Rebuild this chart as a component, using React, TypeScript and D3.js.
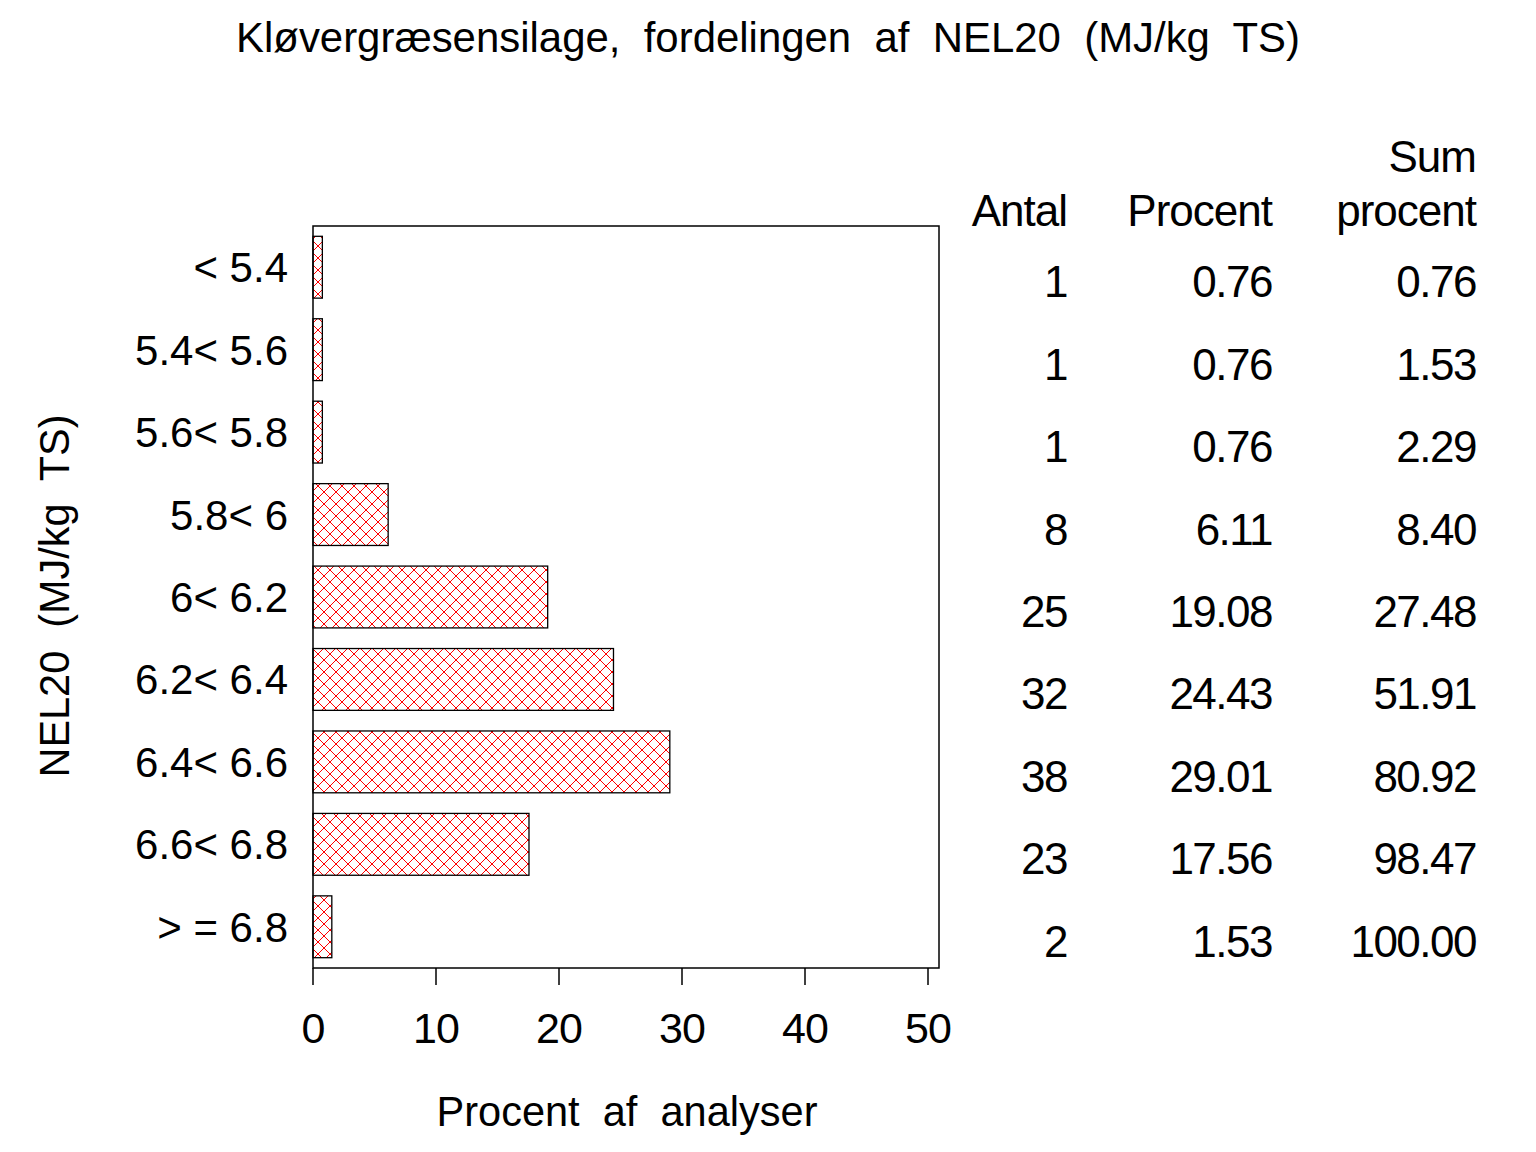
import React from 'react';
import * as d3 from 'd3';

// NEL20 classes, shown top to bottom
const categories = ['< 5.4', '5.4< 5.6', '5.6< 5.8', '5.8< 6', '6< 6.2', '6.2< 6.4', '6.4< 6.6', '6.6< 6.8', '> = 6.8'];
const antal = [1, 1, 1, 8, 25, 32, 38, 23, 2];
const procent = [0.76, 0.76, 0.76, 6.11, 19.08, 24.43, 29.01, 17.56, 1.53];
const sumProcent = [0.76, 1.53, 2.29, 8.4, 27.48, 51.91, 80.92, 98.47, 100.0];
const xTicks = [0, 10, 20, 30, 40, 50];

const font = '"Liberation Sans", Arial, Helvetica, sans-serif';
const pre: React.CSSProperties = { whiteSpace: 'pre' };

const App: React.FC = () => {
    const W = 1536;
    const H = 1152;

    // plot frame
    const left = 313;
    const top = 226;
    const bottom = 968;
    const frameRight = 939;

    const xScale = d3.scaleLinear().domain([0, 50]).range([left, 928]);
    const yScale = d3.scaleBand<string>()
        .domain(categories)
        .range([top, bottom])
        .paddingInner(0.25)
        .paddingOuter(0.125);

    const center = (c: string) => (yScale(c) as number) + yScale.bandwidth() / 2;

    // table columns (right edges)
    const colAntal = 1067;
    const colProcent = 1272;
    const colSum = 1476;

    return (
        <svg
            width={W}
            height={H}
            style={{ position: 'absolute', left: 0, top: 0, background: '#fff' }}
            fontFamily={font}
        >
            <defs>
                <pattern id="hatch" width={12} height={12} patternUnits="userSpaceOnUse">
                    <rect width={12} height={12} fill="#fff" />
                    <path d="M0,0L12,12M12,0L0,12" stroke="#ff0000" strokeWidth={1} shapeRendering="crispEdges" />
                </pattern>
            </defs>

            <rect x={0} y={0} width={W} height={H} fill="#fff" />

            {/* title */}
            <text x={768} y={52} fontSize={43} textAnchor="middle" textLength={1064} lengthAdjust="spacingAndGlyphs" style={pre}>
                {'Kløvergræsensilage,  fordelingen  af  NEL20  (MJ/kg  TS)'}
            </text>

            {/* bars */}
            {categories.map((c, i) => (
                <rect
                    key={c}
                    x={xScale(0)}
                    y={yScale(c)}
                    width={xScale(procent[i]) - xScale(0)}
                    height={yScale.bandwidth()}
                    fill="url(#hatch)"
                    stroke="#000"
                    strokeWidth={1.3}
                />
            ))}

            {/* frame */}
            <rect x={left} y={top} width={frameRight - left} height={bottom - top} fill="none" stroke="#000" strokeWidth={1.5} />

            {/* category labels */}
            {categories.map(c => (
                <text key={c} x={288} y={center(c) + 15} fontSize={42} textAnchor="end" style={pre}>
                    {c}
                </text>
            ))}

            {/* x axis ticks */}
            {xTicks.map(t => (
                <g key={t}>
                    <line x1={xScale(t)} x2={xScale(t)} y1={bottom} y2={bottom + 17} stroke="#000" strokeWidth={1.5} />
                    <text x={xScale(t)} y={1043} fontSize={43} textAnchor="middle" letterSpacing={-1}>
                        {t}
                    </text>
                </g>
            ))}

            {/* axis titles */}
            <text x={627} y={1126} fontSize={43} textAnchor="middle" textLength={381} lengthAdjust="spacingAndGlyphs" style={pre}>
                {'Procent  af  analyser'}
            </text>
            <text
                transform={`translate(69, 596) rotate(-90)`}
                fontSize={42}
                textAnchor="middle"
                textLength={363}
                lengthAdjust="spacingAndGlyphs"
                style={pre}
            >
                {'NEL20  (MJ/kg  TS)'}
            </text>

            {/* table headers */}
            <g fontSize={44} textAnchor="end" letterSpacing={-1}>
                <text x={colSum} y={172}>Sum</text>
                <text x={colAntal} y={226}>Antal</text>
                <text x={colProcent} y={226}>Procent</text>
                <text x={colSum} y={226}>procent</text>
            </g>

            {/* table rows */}
            <g fontSize={44} textAnchor="end" letterSpacing={-1.5}>
                {categories.map((c, i) => (
                    <g key={c}>
                        <text x={colAntal} y={center(c) + 30}>{antal[i]}</text>
                        <text x={colProcent} y={center(c) + 30}>{procent[i].toFixed(2)}</text>
                        <text x={colSum} y={center(c) + 30}>{sumProcent[i].toFixed(2)}</text>
                    </g>
                ))}
            </g>
        </svg>
    );
};

export default App;
